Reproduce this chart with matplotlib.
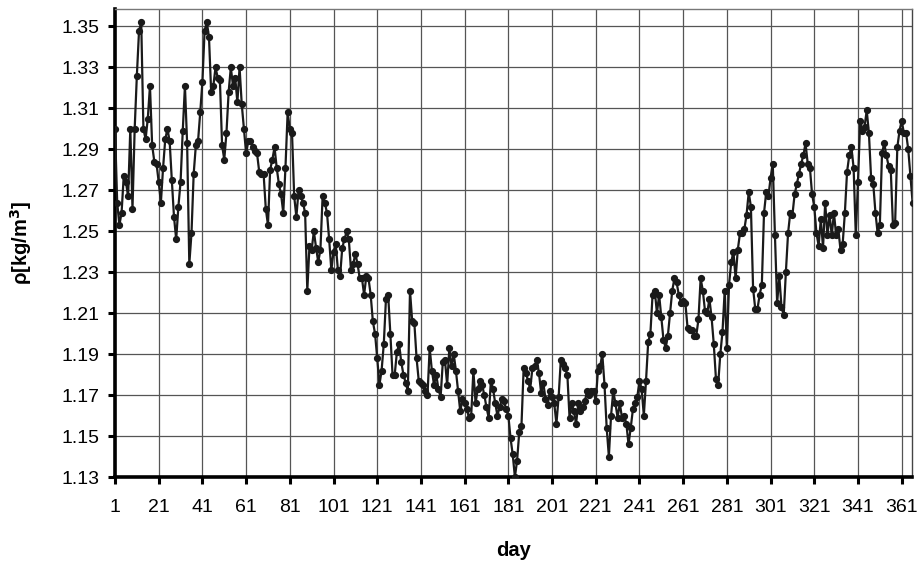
import numpy as np
import matplotlib
matplotlib.use("Agg")
import matplotlib.pyplot as plt

plt.rcParams["font.family"] = ["Liberation Sans", "DejaVu Sans"]

# daily air density (kg/m3)
rho_days_1_58 = [
    1.300, 1.264, 1.253, 1.259, 1.277, 1.274, 1.267, 1.300, 1.261, 1.300,
    1.326, 1.348, 1.352, 1.300, 1.295, 1.305, 1.321, 1.292, 1.284, 1.283,
    1.274, 1.264, 1.281, 1.295, 1.300, 1.294, 1.275, 1.257, 1.246, 1.262,
    1.274, 1.299, 1.321, 1.293, 1.234, 1.249, 1.278, 1.292, 1.294, 1.308,
    1.323, 1.348, 1.352, 1.345, 1.318, 1.321, 1.330, 1.325, 1.324, 1.292,
    1.285, 1.298, 1.318, 1.330, 1.321, 1.325, 1.313, 1.330,
]
rho_days_59_122 = [
    1.312, 1.300, 1.288, 1.294, 1.294, 1.291, 1.289, 1.288, 1.279, 1.278,
    1.278, 1.261, 1.253, 1.280, 1.285, 1.291, 1.281, 1.273, 1.268, 1.259,
    1.281, 1.308, 1.300, 1.298, 1.267, 1.257, 1.270, 1.267, 1.264, 1.259,
    1.221, 1.243, 1.241, 1.250, 1.242, 1.235, 1.241, 1.267, 1.264, 1.259,
    1.246, 1.231, 1.240, 1.244, 1.231, 1.228, 1.242, 1.246, 1.250, 1.246,
    1.231, 1.234, 1.239, 1.234, 1.227, 1.227, 1.219, 1.228, 1.227, 1.219,
    1.206, 1.200, 1.188, 1.175,
]
rho_days_123_198 = [
    1.182, 1.195, 1.217, 1.219, 1.200, 1.180, 1.180, 1.191, 1.195, 1.186,
    1.180, 1.176, 1.172, 1.221, 1.206, 1.205, 1.188, 1.177, 1.176, 1.175,
    1.172, 1.170, 1.193, 1.182, 1.175, 1.180, 1.173, 1.169, 1.186, 1.187,
    1.175, 1.193, 1.184, 1.190, 1.182, 1.172, 1.162, 1.168, 1.166, 1.163,
    1.159, 1.160, 1.182, 1.166, 1.173, 1.177, 1.175, 1.170, 1.164, 1.159,
    1.177, 1.173, 1.166, 1.160, 1.164, 1.168, 1.167, 1.163,
    1.160, 1.149, 1.141, 1.130, 1.138, 1.152, 1.155, 1.183, 1.181, 1.177,
    1.173, 1.183, 1.184, 1.187, 1.181, 1.171, 1.176, 1.168,
]
rho_days_199_281 = [
    1.165, 1.172, 1.169, 1.166, 1.156, 1.169, 1.187, 1.185, 1.183, 1.180,
    1.159, 1.166, 1.162, 1.156, 1.166, 1.162, 1.164, 1.167, 1.172, 1.170,
    1.172, 1.172, 1.167, 1.182, 1.184, 1.190, 1.175,
    1.154, 1.140, 1.160, 1.172, 1.166, 1.159, 1.166, 1.159, 1.160, 1.156,
    1.146, 1.154, 1.163, 1.166, 1.169, 1.177, 1.173, 1.160, 1.177, 1.196,
    1.200, 1.219, 1.221, 1.210, 1.219, 1.208, 1.197, 1.193, 1.199, 1.210,
    1.221, 1.227, 1.225, 1.219, 1.215, 1.216, 1.215,
    1.203, 1.202, 1.202, 1.199, 1.199, 1.207, 1.227, 1.221, 1.211, 1.210,
    1.217, 1.208, 1.195, 1.178, 1.175, 1.190, 1.201, 1.221, 1.193,
]
rho_days_282_366 = [
    1.224, 1.235, 1.240, 1.227, 1.241, 1.249, 1.249, 1.251, 1.258, 1.269,
    1.262, 1.222, 1.212, 1.212, 1.219, 1.224, 1.259, 1.269, 1.267, 1.276,
    1.283, 1.248, 1.215, 1.228, 1.213, 1.209, 1.230, 1.249, 1.259, 1.258,
    1.268, 1.273, 1.278, 1.283, 1.287, 1.293,
    1.283, 1.281, 1.268, 1.262, 1.249, 1.243, 1.256, 1.242, 1.264, 1.248,
    1.258, 1.248, 1.259, 1.248, 1.251, 1.241, 1.244, 1.259, 1.279, 1.287,
    1.291, 1.281, 1.248, 1.274, 1.304, 1.299, 1.301, 1.309, 1.298, 1.276,
    1.273, 1.259, 1.249, 1.253, 1.288, 1.293, 1.287, 1.282, 1.280, 1.253,
    1.254, 1.291, 1.299, 1.304, 1.298, 1.298, 1.290, 1.277, 1.264,
]

x_ticks = list(range(1, 362, 20))
y_ticks = [1.13, 1.15, 1.17, 1.19, 1.21, 1.23, 1.25, 1.27, 1.29, 1.31, 1.33, 1.35]

rho = np.array(rho_days_1_58 + rho_days_59_122 + rho_days_123_198
               + rho_days_199_281 + rho_days_282_366)
days = np.arange(1, len(rho) + 1)

fig = plt.figure(figsize=(9.23, 5.66), dpi=100)
ax = fig.add_axes([0.1246, 0.1572, 0.8632, 0.8268])

ax.plot(days, rho, color="#1a1a1a", lw=1.6, marker="o", ms=4.2,
        mfc="#1a1a1a", mec="#1a1a1a", zorder=3)

ax.set_xlim(1, 365.6)
ax.set_ylim(1.13, 1.3585)
ax.set_xticks(x_ticks)
ax.set_yticks(y_ticks)
ax.set_yticklabels([f"{v:.2f}" for v in y_ticks])
ax.grid(True, color="#555555", lw=0.9)
ax.set_axisbelow(True)

ax.tick_params(axis="both", direction="out", length=5, width=2.2,
               labelsize=14, color="black", pad=6)
ax.tick_params(axis="x", pad=11)

for side in ("left", "bottom"):
    ax.spines[side].set_linewidth(2.6)
    ax.spines[side].set_color("black")
ax.spines["top"].set_color("#777777")
ax.spines["top"].set_linewidth(1.0)
ax.spines["top"].set_linestyle((0, (2, 1)))
ax.spines["right"].set_color("#444444")
ax.spines["right"].set_linewidth(1.0)

ax.set_xlabel("day", fontsize=14.5, fontweight="bold", labelpad=18)
ax.set_ylabel("ρ[kg/m$^\\mathbf{3}$]", fontsize=14.5, fontweight="bold", labelpad=20)

fig.savefig("out.png", dpi=100)
